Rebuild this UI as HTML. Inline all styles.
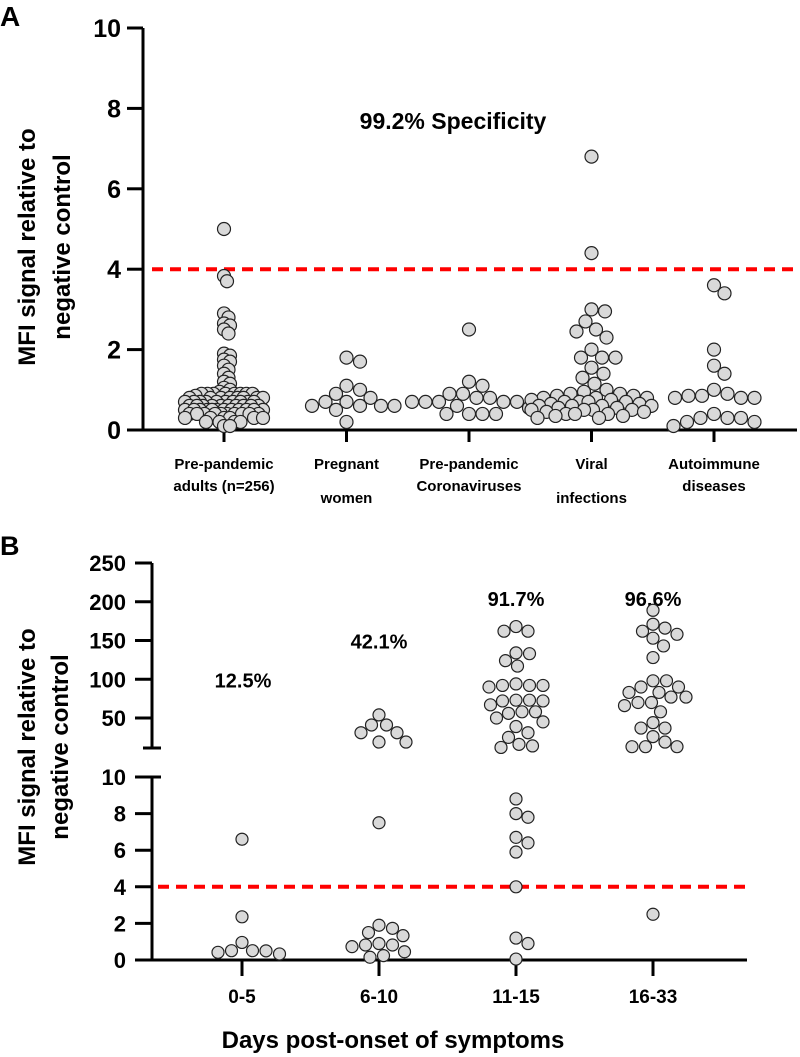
<!DOCTYPE html>
<html><head><meta charset="utf-8"><style>
html,body{margin:0;padding:0;background:#fff}
svg{display:block;font-family:"Liberation Sans",Arial,sans-serif;font-weight:bold}
</style></head><body>
<svg id="chart" width="800" height="1057" viewBox="0 0 800 1057"></svg>
<script>
// ---------- Panel A data ----------
const categoriesA=[["Pre-pandemic","adults (n=256)"],["Pregnant","women"],["Pre-pandemic","Coronaviruses"],["Viral","infections"],["Autoimmune","diseases"]];
const prePandemicAdults=[5.0,3.83,3.7,2.9,2.8,2.65,2.6,2.5,2.4,1.9,1.85,1.75,1.7,1.6,1.5,1.4,1.3,1.2,1.15,1.05,1.0,0.95,
0.9,0.9,0.9,0.9,0.9,0.9,0.9,0.9,0.85,0.8,0.8,0.8,0.8,0.8,0.8,0.8,0.8,0.7,0.7,0.7,0.7,0.7,0.7,0.7,0.7,0.7,0.7,
0.6,0.6,0.6,0.6,0.6,0.6,0.6,0.6,0.6,0.6,0.5,0.5,0.5,0.5,0.5,0.5,0.5,0.5,0.5,0.5,0.5,0.5,
0.4,0.4,0.4,0.4,0.4,0.4,0.4,0.4,0.4,0.4,0.3,0.3,0.3,0.3,0.3,0.3,0.2,0.2,0.2,0.2,0.1,0.1];
const pregnantWomen=[1.8,1.7,1.1,1.0,0.9,0.8,0.7,0.7,0.6,0.6,0.6,0.6,0.5,0.2];
const prePandemicCorona=[2.5,1.2,1.1,0.9,0.9,0.8,0.8,0.7,0.7,0.7,0.7,0.7,0.6,0.55,0.4,0.4,0.4,0.4];
const viralInfections=[6.8,4.4,3.0,2.95,2.7,2.5,2.45,2.3,2.0,1.8,1.8,1.8,1.55,1.4,1.3,1.15,1.0,
0.95,0.9,0.9,0.85,0.85,0.8,0.8,0.8,0.75,0.75,0.7,0.7,0.7,0.7,0.65,0.65,0.6,0.6,0.6,0.6,0.55,0.55,0.5,0.5,0.5,0.5,0.45,0.45,0.4,0.4,0.4,0.35,0.35,0.3,0.3];
const autoimmune=[3.6,3.4,2.0,1.6,1.4,1.0,0.9,0.85,0.85,0.8,0.8,0.8,0.4,0.3,0.3,0.3,0.2,0.2,0.1];
const seriesA=[prePandemicAdults,pregnantWomen,prePandemicCorona,viralInfections,autoimmune];
const ticksA=[0,2,4,6,8,10];
const cutoff=4;
// ---------- Panel B data ----------
const categoriesB=["0-5","6-10","11-15","16-33"];
const upperB=[[],[54,41,41,31,31,19,19],
[168,162,162,134,133,124,117,94,92,92,92,90,73,73,72,72,67,58,58,56,50,45,39,31,25,16,14,12],
[189,171,166,162,158,153,143,128,98,98,90,90,83,83,77,77,70,70,66,58,44,37,37,26,19,13,13,13]];
const lowerB=[[6.6,2.36,0.96,0.51,0.51,0.42,0.33,0.5],
[7.5,1.9,1.73,1.5,1.33,0.9,0.82,0.82,0.73,0.45,0.24,0.15],
[8.8,8.0,7.8,6.7,6.4,5.9,4.0,1.2,0.9,0.05],
[2.5]];
const percentB=["12.5%","42.1%","91.7%","96.6%"];
const percentYB=[100,150,205,205];
const ticksBUpper=[50,100,150,200,250];
const ticksBLower=[0,2,4,6,8,10];

const NS="http://www.w3.org/2000/svg";
const svg=document.getElementById('chart');
function mk(tag,attrs,parent){const e=document.createElementNS(NS,tag);for(const k in attrs)e.setAttribute(k,attrs[k]);(parent||svg).appendChild(e);return e;}
function txt(s,x,y,size,anchor,parent){const e=mk('text',{x:x,y:y,'font-size':size,'text-anchor':anchor||'middle',fill:'#000'},parent);e.textContent=s;return e;}

// scales
const xA=i=>224+i*122.5;
const yA=v=>430-v*40.2;
const xB=i=>242+i*137;
const yB=v=>v<=10?960-v*18.3:718-(v-50)*0.775;

function swarm(vals,cx,yf,minD,maxOff){
  const sorted=vals.slice().sort((a,b)=>b-a);const placed=[];
  sorted.forEach(v=>{const y=yf(v);let best=null,bestScore=-1;
    for(let k=0;k<=maxOff*2;k++){const off=(k%2?1:-1)*Math.ceil(k/2)*1.5;if(Math.abs(off)>maxOff)continue;
      let md=1e9;placed.forEach(p=>{const d=Math.hypot(p.x-(cx+off),p.y-y);if(d<md)md=d;});
      if(md>=minD){best=off;break;} if(md>bestScore){bestScore=md;best=off;}}
    placed.push({x:cx+best,y:y,v:v});});
  return placed;
}

// ================= Panel A =================
const gA=mk('g',{});


const la=txt('A',0,26,28,'start',gA);


const ytA=mk('text',{transform:'translate(44,247) rotate(-90)','font-size':24,'text-anchor':'middle'},gA);


const t1=mk('tspan',{x:0,y:-9},ytA);t1.textContent='MFI signal relative to';
const t2=mk('tspan',{x:0,y:26},ytA);t2.textContent='negative control';
const axA=mk('path',{d:'M143,28V431M142,430H797',stroke:'#000','stroke-width':3,fill:'none'},gA);


ticksA.forEach(t=>{
  const l=mk('line',{x1:127,x2:143,y1:yA(t),y2:yA(t),stroke:'#000','stroke-width':3},gA);
  
  
  const lb=txt(String(t),121,yA(t)+9,25,'end',gA);
  
  
});
const dA=mk('line',{x1:152,x2:795,y1:yA(cutoff),y2:yA(cutoff),stroke:'#ff0000','stroke-width':4,'stroke-dasharray':'11 7'},gA);


const spec=txt('99.2% Specificity',453,129,23,'middle',gA);


categoriesA.forEach((c,i)=>{
  const l=mk('line',{x1:xA(i),x2:xA(i),y1:430,y2:442,stroke:'#000','stroke-width':3},gA);
  
  
  const a=txt(c[0],xA(i),469,15,'middle',gA);
  
  
  const low=(i===1||i===3)?503:491;
  const b=txt(c[1],xA(i),low,15,'middle',gA);
  
  
});
seriesA.forEach((vals,i)=>{
  const dense=i===0;
  const pts=swarm(vals,xA(i),yA,dense?6:13,dense?40:60);
  pts.forEach(p=>{
    const c=mk('circle',{cx:p.x,cy:p.y,r:6.5,fill:'#d9d9d9',stroke:'#222','stroke-width':1.2},gA);
    
    
  });
});

// ================= Panel B =================
const gB=mk('g',{});


const lbB=txt('B',0,555,27,'start',gB);


const ytB=mk('text',{transform:'translate(44,747) rotate(-90)','font-size':24,'text-anchor':'middle'},gB);


const u1=mk('tspan',{x:0,y:-9},ytB);u1.textContent='MFI signal relative to';
const u2=mk('tspan',{x:0,y:24},ytB);u2.textContent='negative control';
const axB=mk('path',{d:'M152,563V748M143,748H161M143,777H161M152,777V961M151,960H747',stroke:'#000','stroke-width':3,fill:'none'},gB);


ticksBUpper.concat(ticksBLower).forEach((t,k)=>{
  const y=k<ticksBUpper.length?yB(t===50?50:t):yB(t);
  if(t===10&&k>=ticksBUpper.length){}
  const l=mk('line',{x1:135,x2:152,y1:y,y2:y,stroke:'#000','stroke-width':3},gB);
  
  
  const lb=txt(String(t),126,y+8,22,'end',gB);
  
  
});
const dB=mk('line',{x1:158,x2:745,y1:yB(cutoff),y2:yB(cutoff),stroke:'#ff0000','stroke-width':4,'stroke-dasharray':'11 7'},gB);


categoriesB.forEach((c,i)=>{
  const l=mk('line',{x1:xB(i),x2:xB(i),y1:960,y2:976,stroke:'#000','stroke-width':3},gB);
  
  
  const a=txt(c,xB(i),1003,19,'middle',gB);
  
  
  const p=txt(percentB[i],xB(i)+(i===0?1:0),yB(percentYB[i])+8,20,'middle',gB);
  
  
  [upperB[i],lowerB[i]].forEach(vals=>{
    swarm(vals,xB(i),yB,12.5,60).forEach(pt=>{
      const cc=mk('circle',{cx:pt.x,cy:pt.y,r:6,fill:'#d9d9d9',stroke:'#222','stroke-width':1.2},gB);
      
      
    });
  });
});
const xt=txt('Days post-onset of symptoms',393,1048,24,'middle',gB);


</script>
</body></html>
